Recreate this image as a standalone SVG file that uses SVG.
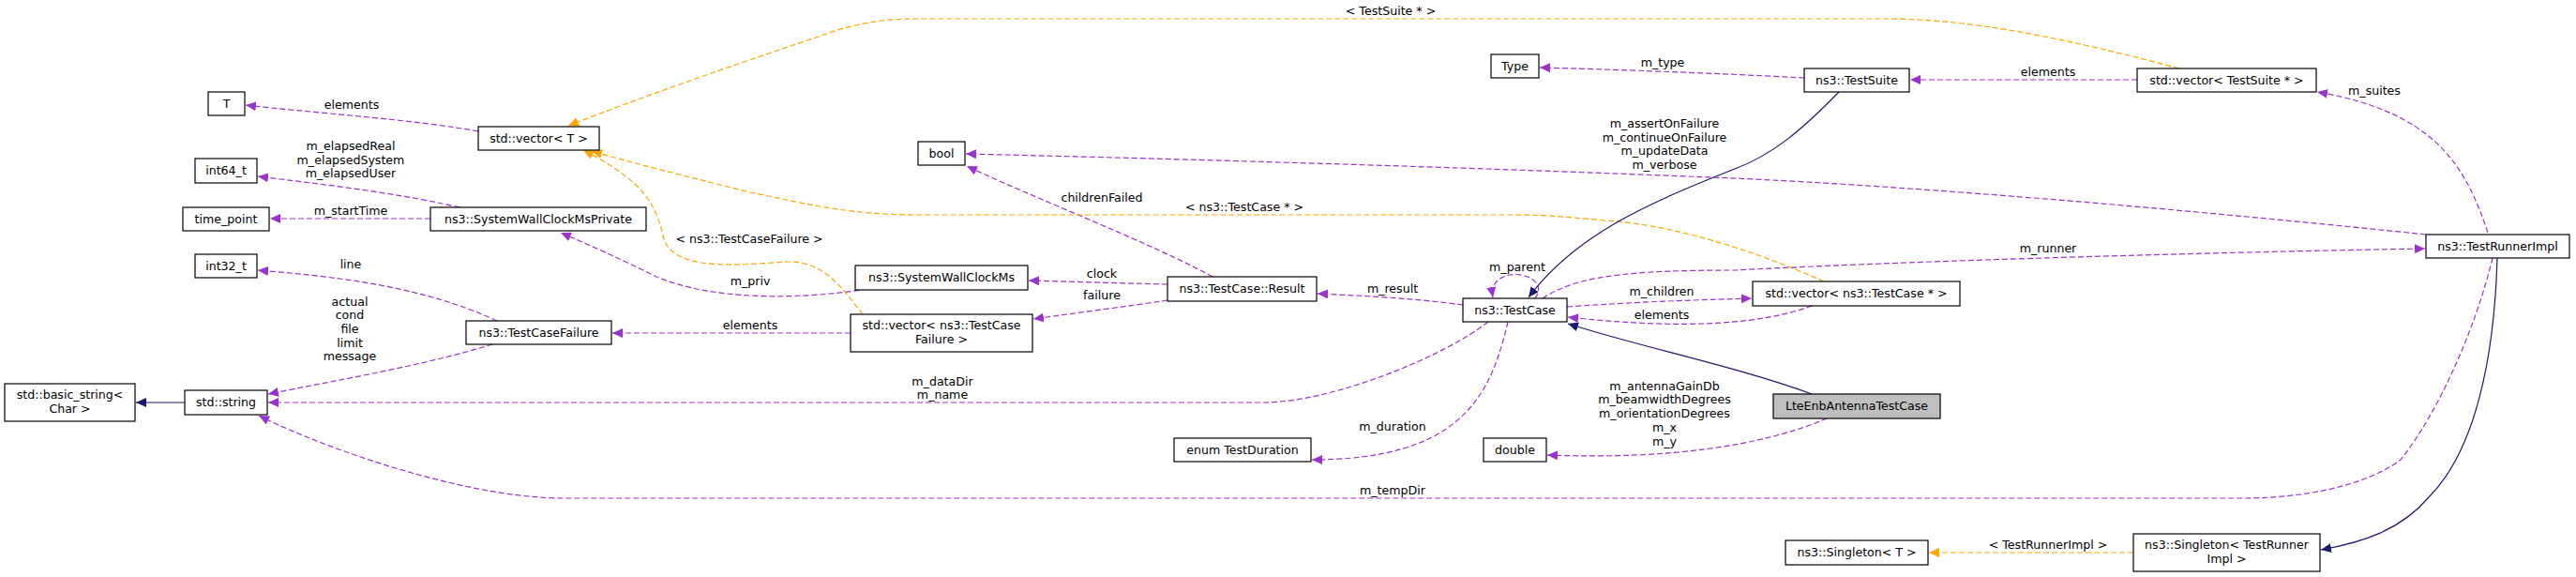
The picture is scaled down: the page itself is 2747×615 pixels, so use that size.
<svg xmlns="http://www.w3.org/2000/svg" width="2747" height="615" viewBox="0 0 2747 615">
<style>
text{font-family:"DejaVu Sans","Liberation Sans",sans-serif;font-size:12.6px;fill:#000;text-anchor:middle}
.n rect{fill:#fff;stroke:#000;stroke-width:1.2}
.g rect{fill:#bfbfbf}
.p{fill:none;stroke:#9a32cd;stroke-width:1.2;stroke-dasharray:6,3}
.o{fill:none;stroke:#ffa500;stroke-width:1.2;stroke-dasharray:6,3}
.b{fill:none;stroke:#191970;stroke-width:1.2}
</style>
<defs>
<marker id="ap" markerWidth="12" markerHeight="10" refX="11" refY="5" orient="auto" markerUnits="userSpaceOnUse"><path d="M0,0 L11,5 L0,10 Z" fill="#9a32cd"/></marker>
<marker id="ao" markerWidth="12" markerHeight="10" refX="11" refY="5" orient="auto" markerUnits="userSpaceOnUse"><path d="M0,0 L11,5 L0,10 Z" fill="#ffa500"/></marker>
<marker id="ab" markerWidth="12" markerHeight="10" refX="11" refY="5" orient="auto" markerUnits="userSpaceOnUse"><path d="M0,0 L11,5 L0,10 Z" fill="#191970"/></marker>
</defs>
<g id="edges">
<path class="p" marker-end="url(#ap)" d="M510,140 C440,127 330,120 262,112"/>
<path class="p" marker-end="url(#ap)" d="M490,221 C420,205 340,196 275,188"/>
<path class="p" marker-end="url(#ap)" d="M459,233 L288,233"/>
<path class="p" marker-end="url(#ap)" d="M530,342 C450,305 360,295 275,288"/>
<path class="p" marker-end="url(#ap)" d="M525,367 C450,390 360,405 286,420"/>
<path class="b" marker-end="url(#ab)" d="M197,429 L145,429"/>
<path class="p" marker-end="url(#ap)" d="M925,308 C850,320 760,320 700,295 C660,275 630,262 598,248"/>
<path class="p" marker-end="url(#ap)" d="M907,355 L653,355"/>
<path class="o" marker-end="url(#ao)" d="M920,335 C900,310 880,278 840,279 C790,282 720,290 708,255 C700,220 690,195 622,160"/>
<path class="p" marker-end="url(#ap)" d="M1293,295 C1230,260 1100,210 1031,177"/>
<path class="p" marker-end="url(#ap)" d="M1245,303 L1097,299"/>
<path class="p" marker-end="url(#ap)" d="M1245,320 C1200,327 1150,333 1102,340"/>
<path class="p" marker-end="url(#ap)" d="M1560,325 C1510,318 1450,315 1405,313"/>
<path class="p" marker-end="url(#ap)" d="M1637,318 C1650,300 1625,290 1610,293 C1595,296 1590,305 1592,317"/>
<path class="p" marker-end="url(#ap)" d="M1671,327 C1740,322 1800,320 1868,318"/>
<path class="p" marker-end="url(#ap)" d="M1932,326 C1880,345 1800,352 1672,338"/>
<path class="o" marker-end="url(#ao)" d="M1945,300 C1900,280 1800,240 1711,235 C1660,230 1640,229 1615,229 L978,229 C900,229 850,215 800,205 C720,185 680,175 631,161"/>
<path class="o" marker-end="url(#ao)" d="M2324,73 C2200,40 2100,20 2011,20 L978,20 C930,20 900,29 870,40 C780,70 680,105 606,134"/>
<path class="p" marker-end="url(#ap)" d="M1924,83 C1830,78 1720,74 1642,72"/>
<path class="p" marker-end="url(#ap)" d="M2279,85 L2037,85"/>
<path class="b" marker-end="url(#ab)" d="M1961,98 C1920,140 1890,165 1850,180 C1760,215 1680,250 1630,317"/>
<path class="b" marker-end="url(#ab)" d="M1932,420 C1850,390 1750,370 1672,345"/>
<path class="p" marker-end="url(#ap)" d="M2587,250 C2300,220 2000,195 1800,188 C1500,176 1200,168 1030,164"/>
<path class="p" marker-end="url(#ap)" d="M1645,318 C1680,295 1730,288 1850,288 C2000,280 2300,270 2586,265"/>
<path class="p" marker-end="url(#ap)" d="M2653,248 C2630,180 2600,120 2471,98"/>
<path class="p" marker-end="url(#ap)" d="M2658,275 C2640,350 2600,440 2560,490 C2520,520 2450,531 2392,531 L600,531 C500,531 350,480 276,443"/>
<path class="p" marker-end="url(#ap)" d="M1587,343 C1540,380 1420,429 1347,429 L286,429"/>
<path class="p" marker-end="url(#ap)" d="M1608,343 C1590,420 1560,490 1399,490"/>
<path class="p" marker-end="url(#ap)" d="M1948,446 C1880,475 1780,490 1650,485"/>
<path class="b" marker-end="url(#ab)" d="M2663,275 C2660,380 2640,480 2590,530 C2560,565 2520,578 2475,586"/>
<path class="o" marker-end="url(#ao)" d="M2275,589 L2057,589"/>
</g>
<g id="edge-labels">
<text x="375" y="116">elements</text>
<text x="374" y="160">m_elapsedReal</text>
<text x="374" y="175">m_elapsedSystem</text>
<text x="374" y="189">m_elapsedUser</text>
<text x="374" y="229">m_startTime</text>
<text x="374" y="286">line</text>
<text x="373" y="326">actual</text>
<text x="373" y="340">cond</text>
<text x="373" y="355">file</text>
<text x="373" y="370">limit</text>
<text x="373" y="384">message</text>
<text x="799" y="259">&lt; ns3::TestCaseFailure &gt;</text>
<text x="800" y="304">m_priv</text>
<text x="800" y="351">elements</text>
<text x="1483" y="16">&lt; TestSuite * &gt;</text>
<text x="1773" y="71">m_type</text>
<text x="1775" y="136">m_assertOnFailure</text>
<text x="1775" y="151">m_continueOnFailure</text>
<text x="1775" y="165">m_updateData</text>
<text x="1775" y="180">m_verbose</text>
<text x="1175" y="215">childrenFailed</text>
<text x="1327" y="225">&lt; ns3::TestCase * &gt;</text>
<text x="1175" y="296">clock</text>
<text x="1175" y="319">failure</text>
<text x="1485" y="312">m_result</text>
<text x="1618" y="289">m_parent</text>
<text x="1772" y="315">m_children</text>
<text x="1772" y="340">elements</text>
<text x="1005" y="411">m_dataDir</text>
<text x="1005" y="425">m_name</text>
<text x="1485" y="459">m_duration</text>
<text x="1775" y="416">m_antennaGainDb</text>
<text x="1775" y="430">m_beamwidthDegrees</text>
<text x="1775" y="445">m_orientationDegrees</text>
<text x="1775" y="460">m_x</text>
<text x="1775" y="475">m_y</text>
<text x="1485" y="527">m_tempDir</text>
<text x="2184" y="81">elements</text>
<text x="2532" y="101">m_suites</text>
<text x="2184" y="269">m_runner</text>
<text x="2184" y="585">&lt; TestRunnerImpl &gt;</text>
</g>
<g id="n-T" class="n"><rect x="222" y="98" width="39" height="25"/><text x="241.5" y="115">T</text></g>
<g id="n-vecT" class="n"><rect x="510" y="135" width="129" height="25"/><text x="574.5" y="152">std::vector&lt; T &gt;</text></g>
<g id="n-int64" class="n"><rect x="208" y="169" width="66" height="26"/><text x="241" y="186">int64_t</text></g>
<g id="n-timepoint" class="n"><rect x="195" y="221" width="92" height="25"/><text x="241" y="238">time_point</text></g>
<g id="n-swcmp" class="n"><rect x="459" y="221" width="230" height="25"/><text x="574" y="238">ns3::SystemWallClockMsPrivate</text></g>
<g id="n-int32" class="n"><rect x="208" y="271" width="66" height="25"/><text x="241" y="288">int32_t</text></g>
<g id="n-tcf" class="n"><rect x="497" y="342" width="155" height="25"/><text x="574.5" y="359">ns3::TestCaseFailure</text></g>
<g id="n-basicstring" class="n"><rect x="5" y="409" width="139" height="40"/><text x="74.5" y="425">std::basic_string&lt;</text><text x="74.5" y="440">Char &gt;</text></g>
<g id="n-string" class="n"><rect x="197" y="416" width="88" height="26"/><text x="241" y="433">std::string</text></g>
<g id="n-bool" class="n"><rect x="979" y="151" width="50" height="25"/><text x="1004" y="168">bool</text></g>
<g id="n-swcm" class="n"><rect x="912" y="283" width="184" height="26"/><text x="1004" y="300">ns3::SystemWallClockMs</text></g>
<g id="n-vectcf" class="n"><rect x="907" y="335" width="194" height="40"/><text x="1004" y="351">std::vector&lt; ns3::TestCase</text><text x="1004" y="366">Failure &gt;</text></g>
<g id="n-result" class="n"><rect x="1245" y="295" width="159" height="26"/><text x="1324.5" y="312">ns3::TestCase::Result</text></g>
<g id="n-testcase" class="n"><rect x="1560" y="318" width="111" height="25"/><text x="1615.5" y="335">ns3::TestCase</text></g>
<g id="n-duration" class="n"><rect x="1252" y="467" width="146" height="25"/><text x="1325" y="484">enum TestDuration</text></g>
<g id="n-double" class="n"><rect x="1582" y="467" width="67" height="25"/><text x="1615.5" y="484">double</text></g>
<g id="n-type" class="n"><rect x="1590" y="58" width="51" height="25"/><text x="1615.5" y="75">Type</text></g>
<g id="n-testsuite" class="n"><rect x="1924" y="73" width="112" height="25"/><text x="1980" y="90">ns3::TestSuite</text></g>
<g id="n-vects" class="n"><rect x="2279" y="73" width="191" height="25"/><text x="2374.5" y="90">std::vector&lt; TestSuite * &gt;</text></g>
<g id="n-vectc" class="n"><rect x="1869" y="300" width="221" height="26"/><text x="1979.5" y="317">std::vector&lt; ns3::TestCase * &gt;</text></g>
<g id="n-lte" class="n g"><rect x="1891" y="420" width="178" height="26"/><text x="1980" y="437">LteEnbAntennaTestCase</text></g>
<g id="n-runner" class="n"><rect x="2587" y="250" width="153" height="25"/><text x="2663.5" y="267">ns3::TestRunnerImpl</text></g>
<g id="n-singT" class="n"><rect x="1904" y="576" width="152" height="26"/><text x="1980" y="593">ns3::Singleton&lt; T &gt;</text></g>
<g id="n-singR" class="n"><rect x="2275" y="569" width="199" height="40"/><text x="2374.5" y="585">ns3::Singleton&lt; TestRunner</text><text x="2374.5" y="600">Impl &gt;</text></g>
</svg>
